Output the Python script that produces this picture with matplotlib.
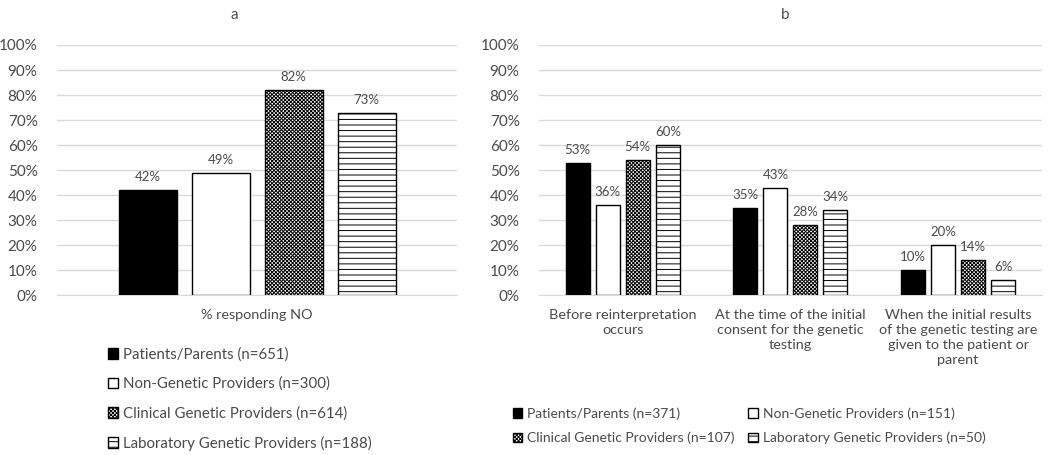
import matplotlib.pyplot as plt
import numpy as np

plt.rcParams['font.family'] = ['Lato', 'DejaVu Sans']
plt.rcParams['hatch.linewidth'] = 0.7

# data
groups = ['Patients/Parents', 'Non-Genetic Providers', 'Clinical Genetic Providers',
          'Laboratory Genetic Providers']
n_a = [651, 300, 614, 188]
n_b = [371, 151, 107, 50]
cats_a = ['% responding NO']
vals_a = [[42], [49], [82], [73]]
cats_b = ['Before reinterpretation\noccurs',
          'At the time of the initial\nconsent for the genetic\ntesting',
          'When the initial results\nof the genetic testing are\ngiven to the patient or\nparent']
vals_b = [[53, 35, 10], [36, 43, 20], [54, 28, 14], [60, 34, 6]]
yticks = [0, 10, 20, 30, 40, 50, 60, 70, 80, 90, 100]

# styles for each group
faces = ['black', 'white', 'white', 'white']
hatches = [None, None, 'xxxxxxxxx', '---']
txt = '#4a4a4a'
grid = '#d9d9d9'

fig = plt.figure(figsize=(10.5, 4.55), dpi=100)
axa = fig.add_axes([0.0543, 0.3516, 0.381, 0.5495])
axb = fig.add_axes([0.5133, 0.3516, 0.479, 0.5495])


def draw(ax, cats, vals, nlist, width, step):
    x = np.arange(len(cats))
    bars = []
    for i in range(len(groups)):
        pos = x + (i - 1.5) * step
        b = ax.bar(pos, vals[i], width, color=faces[i], edgecolor='black',
                   hatch=hatches[i], linewidth=1.0, zorder=3,
                   label=f'{groups[i]} (n={nlist[i]})')
        bars.append(b)
        for p, v in zip(pos, vals[i]):
            ax.annotate(f'{v}%', (p, v), xytext=(0, 5), textcoords='offset points',
                        ha='center', va='bottom', fontsize=9.5, color=txt)
    ax.set_xlim(-0.5, len(cats) - 0.5)
    ax.set_ylim(0, 100)
    ax.set_yticks(yticks)
    ax.set_yticklabels([f'{t}%' for t in yticks], fontsize=11)
    ax.set_xticks(x)
    ax.set_xticklabels(cats, linespacing=1.3, fontsize=10.4)
    ax.tick_params(length=0, colors=txt)
    ax.tick_params(axis='x', pad=10)
    ax.tick_params(axis='y', pad=14)
    ax.grid(axis='y', color=grid, linewidth=1, zorder=0)
    for s in ['top', 'right', 'left']:
        ax.spines[s].set_visible(False)
    ax.spines['bottom'].set_color(grid)
    return bars


bars_a = draw(axa, cats_a, vals_a, n_a, 0.145, 0.1825)
bars_b = draw(axb, cats_b, vals_b, n_b, 0.143, 0.179)

fig.text(234 / 1050, 1 - 15 / 455, 'a', ha='center', va='center', fontsize=11, color=txt)
fig.text(785 / 1050, 1 - 15 / 455, 'b', ha='center', va='center', fontsize=11, color=txt)

axa.legend(loc='upper left', bbox_to_anchor=(94 / 1050, 1 - 334 / 455),
           bbox_transform=fig.transFigure, frameon=False, ncol=1,
           handlelength=0.7, handleheight=0.7, handletextpad=0.35,
           labelspacing=1.0, fontsize=10.8, labelcolor=txt)

# row-wise order for the two column legend
order = [0, 2, 1, 3]
labels_b = [f'{groups[i]} (n={n_b[i]})' for i in order]
axb.legend([bars_b[i] for i in order], labels_b, loc='upper left',
           bbox_to_anchor=(500 / 1050, 1 - 395 / 455),
           bbox_transform=fig.transFigure, frameon=False, ncol=2,
           handlelength=0.7, handleheight=0.7, handletextpad=0.35,
           labelspacing=0.85, columnspacing=1.0, fontsize=10, labelcolor=txt)

fig.savefig('out.png', dpi=100)
